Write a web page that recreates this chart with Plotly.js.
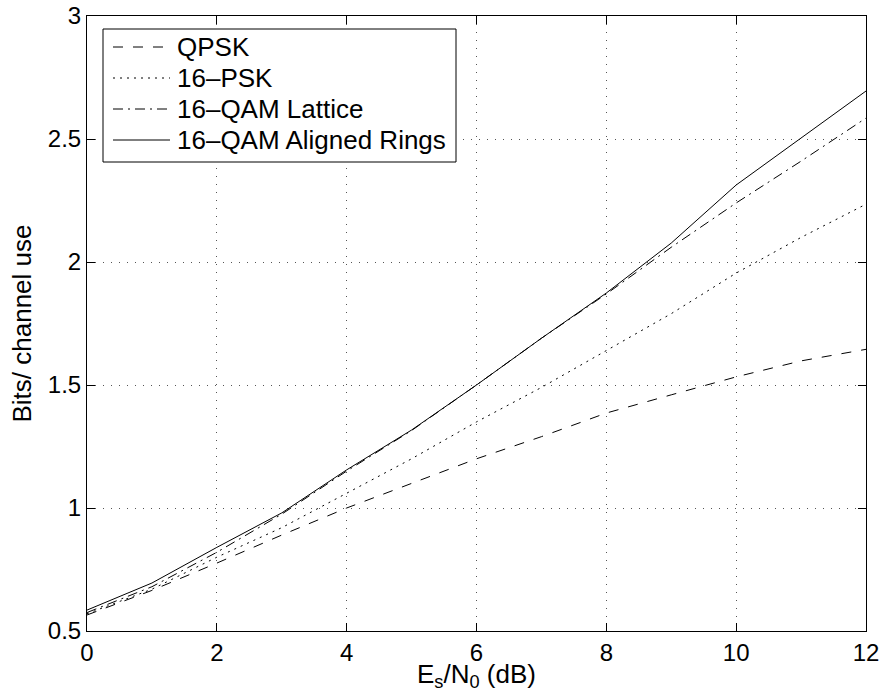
<!DOCTYPE html>
<html>
<head>
<meta charset="utf-8">
<script src="https://cdn.plot.ly/plotly-3.0.1.min.js"></script>
<style>html,body{margin:0;padding:0;background:#fff;}#chart{width:882px;height:698px;}</style>
</head>
<body>
<div id="chart"></div>
<script>
const snr = [0, 1, 2, 3, 4, 5, 6, 7, 8, 9, 10, 11, 12];
const qpsk = [0.565, 0.665, 0.776, 0.89, 1.0, 1.10, 1.20, 1.29, 1.386, 1.46, 1.533, 1.598, 1.645];
const psk16 = [0.57, 0.67, 0.80, 0.92, 1.06, 1.20, 1.35, 1.49, 1.64, 1.79, 1.955, 2.10, 2.235];
const qamLattice = [0.575, 0.68, 0.82, 0.975, 1.15, 1.315, 1.50, 1.69, 1.87, 2.06, 2.24, 2.41, 2.585];
const qamRings = [0.585, 0.695, 0.84, 0.98, 1.155, 1.317, 1.50, 1.69, 1.874, 2.077, 2.313, 2.504, 2.695];
const names = ['QPSK', '16\u2013PSK', '16\u2013QAM Lattice', '16\u2013QAM Aligned Rings'];
const seriesList = [qpsk, psk16, qamLattice, qamRings];
const dashes = ['10px,10px', '2px,5px', '10px,5px,2px,5px', 'solid'];

const traces = seriesList.map((s, i) => ({
  x: snr, y: s, name: names[i], type: 'scatter', mode: 'lines', showlegend: false,
  line: {color: '#000', width: 1, dash: dashes[i]}
}));

const fam = 'Liberation Sans, Arial, sans-serif';
const M = {l: 87, r: 16, t: 16, b: 67};
const W = 882, H = 698;
const pw = W - M.l - M.r, ph = H - M.t - M.b;
const px = v => (v - M.l) / pw;
const py = v => (H - M.b - v) / ph;

// hand-placed legend box (matches the MATLAB-style legend)
const legTop = 29, legBottom = 162, legLeft = 103, legRight = 456;
const rowY = [47, 78, 109, 140];
const shapes = [{
  type: 'rect', xref: 'paper', yref: 'paper', layer: 'above',
  x0: px(legLeft), x1: px(legRight), y0: py(legBottom), y1: py(legTop),
  line: {color: '#000', width: 1}, fillcolor: '#fff'
}];
const annotations = [];
names.forEach((n, i) => {
  shapes.push({
    type: 'line', xref: 'paper', yref: 'paper', layer: 'above',
    x0: px(113), x1: px(170), y0: py(rowY[i]), y1: py(rowY[i]),
    line: {color: '#000', width: 1, dash: dashes[i]}
  });
  annotations.push({
    xref: 'paper', yref: 'paper', x: px(175), y: py(rowY[i]),
    xanchor: 'left', yanchor: 'middle', showarrow: false, text: n,
    font: {family: fam, size: 26, color: '#000'}
  });
});
annotations.push({
  xref: 'paper', yref: 'paper', x: 0.5, y: py(657), xanchor: 'center', yanchor: 'top',
  showarrow: false, text: 'E<sub>s</sub>/N<sub>0</sub> (dB)',
  font: {family: fam, size: 26, color: '#000'}
});

const axisCommon = {
  showline: true, linecolor: '#000', linewidth: 1, mirror: 'ticks',
  ticks: 'inside', ticklen: 8, tickcolor: '#000', tickwidth: 1,
  showgrid: true, gridcolor: '#555', gridwidth: 1, griddash: '1px,7px',
  zeroline: false, tickfont: {family: fam, size: 24, color: '#000'}
};

const layout = {
  width: W, height: H,
  margin: M,
  paper_bgcolor: '#fff', plot_bgcolor: '#fff',
  font: {family: fam, size: 24, color: '#000'},
  xaxis: Object.assign({}, axisCommon, {range: [0, 12], dtick: 2, tick0: 0}),
  yaxis: Object.assign({}, axisCommon, {
    range: [0.5, 3], dtick: 0.5, tick0: 0.5,
    title: {text: 'Bits/ channel use', font: {family: fam, size: 26}, standoff: 8}
  }),
  showlegend: false,
  shapes: shapes,
  annotations: annotations
};

Plotly.newPlot('chart', traces, layout, {displayModeBar: false, staticPlot: true});
</script>
</body>
</html>
